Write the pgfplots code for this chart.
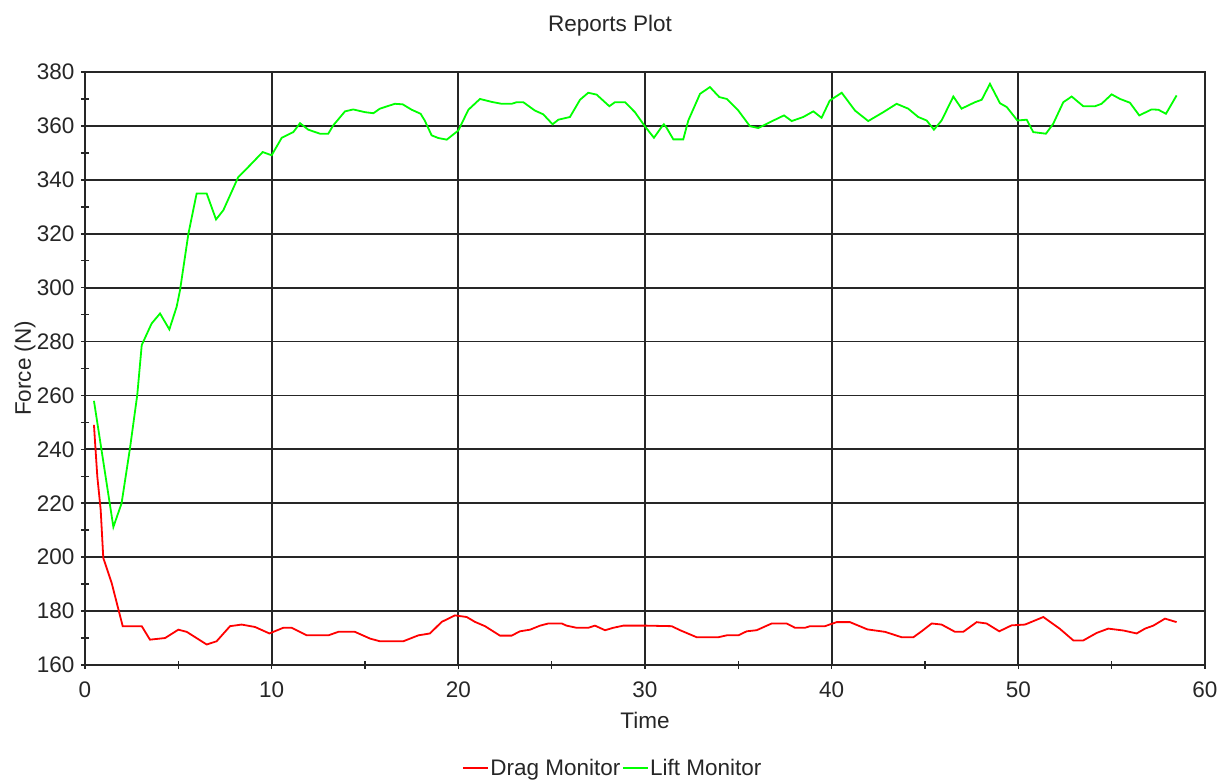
\documentclass[border=0pt]{standalone}
\usepackage{fontspec}
\setmainfont{Liberation Sans}
\usepackage{pgfplots}
\pgfplotsset{compat=1.18}
\definecolor{dragred}{RGB}{255,0,0}
\definecolor{liftgreen}{RGB}{0,255,0}
\begin{document}
\begin{tikzpicture}
\path[use as bounding box] (-85pt,-118pt) rectangle (1134pt,665pt);
\begin{axis}[
  at={(0pt,0pt)}, anchor=south west,
  scale only axis, width=1120pt, height=593pt,
  xmin=0, xmax=60, ymin=160, ymax=380,
  xtick={0,10,...,60}, ytick={160,180,...,380},
  minor x tick num=1, minor y tick num=1,
  tick pos=left,
  grid=major,
  major grid style={black!85, line width=1.8pt},
  axis line style={black!85, line width=1.8pt},
  tick style={black!85, line width=1.6pt},
  tick align=center, major tick length=8pt, minor tick length=8pt,
  font=\fontsize{22.5}{27}\selectfont,
  /pgf/number format/assume math mode=true,
  tick label style={font=\fontsize{22.5}{27}\selectfont, text=black!85},
  xticklabel style={yshift=-9pt},
  yticklabel style={xshift=-3pt},
  title={Reports Plot},
  title style={at={(axis description cs:0.4688,1)}, anchor=center, yshift=40pt, text=black!85},
  xlabel={Time},
  xlabel style={at={(axis description cs:0.5,0)}, anchor=center, yshift=-55pt, text=black!85},
  ylabel={Force (N)},
  ylabel style={at={(axis description cs:-0.0536,0.5)}, anchor=center, text=black!85},
  legend columns=2,
  legend style={at={(0.471,-0.1737)}, anchor=center, draw=none, fill=none,
    font=\fontsize{22.5}{27}\selectfont, text=black!85,
    /tikz/every even column/.append style={column sep=0pt},
    nodes={inner sep=1.5pt}},
  legend image code/.code={\draw[#1] (0pt,0pt) -- (25pt,0pt);},
]
\addplot[dragred, line width=1.8pt] coordinates {
(0.48,249.1) (0.52,244.7) (0.66,229.9) (0.84,217.6) (0.98,199.7) (1.43,190.4) (2.02,174.4) (3.04,174.4) (3.48,169.4) (4.29,170) (5.0,173.1) (5.45,172.3) (6.52,167.6) (7.05,168.8) (7.77,174.4) (8.39,175) (9.11,174.1) (9.88,171.7) (10.62,173.8) (11.07,173.8) (11.88,171) (13.04,171) (13.57,172.3) (14.46,172.3) (15.27,169.8) (15.8,168.8) (17.05,168.8) (17.86,171) (18.48,171.7) (19.11,176) (19.82,178.4) (20.45,177.8) (20.89,176) (21.43,174.4) (22.23,170.9) (22.86,170.9) (23.3,172.5) (23.84,173.1) (24.38,174.6) (24.82,175.4) (25.54,175.4) (25.8,174.6) (26.34,173.8) (26.96,173.8) (27.32,174.6) (27.86,172.9) (28.3,173.8) (28.84,174.6) (30.09,174.6) (31.43,174.4) (31.88,172.9) (32.77,170.3) (33.93,170.3) (34.38,171) (35.0,171) (35.45,172.5) (35.98,172.9) (36.79,175.4) (37.59,175.4) (38.04,173.8) (38.57,173.8) (38.84,174.4) (39.64,174.4) (40.27,175.9) (40.98,175.9) (41.92,173.2) (42.86,172.3) (43.75,170.3) (44.38,170.3) (44.82,172.5) (45.36,175.4) (45.89,175) (46.61,172.3) (47.05,172.3) (47.77,175.9) (48.3,175.4) (48.98,172.5) (49.64,174.7) (50.36,175) (51.34,177.8) (52.23,173.4) (52.95,169.1) (53.48,169.1) (54.2,171.9) (54.82,173.5) (55.63,172.8) (56.34,171.7) (56.79,173.5) (57.23,174.6) (57.86,177.2) (58.48,175.9)
};
\addlegendentry{Drag Monitor}
\addplot[liftgreen, line width=1.8pt] coordinates {
(0.48,258) (1.52,211.2) (1.96,220) (2.41,240.4) (2.8,260.2) (3.04,278.7) (3.57,286.7) (4.02,290.4) (4.52,284.5) (4.91,292.9) (5.09,299) (5.54,320) (5.98,334.9) (6.52,334.9) (7.02,325.3) (7.41,328.7) (8.21,341) (8.84,345.4) (9.52,350.3) (10.0,349.1) (10.54,355.6) (11.16,357.7) (11.52,361) (11.96,358.6) (12.59,357.1) (13.03,357.1) (13.3,360.2) (13.93,365.4) (14.37,366.1) (15.0,365.1) (15.45,364.7) (15.8,366.4) (16.6,368.2) (17.02,368) (17.5,366) (17.98,364.5) (18.2,362) (18.57,356.5) (18.93,355.5) (19.38,354.9) (20.0,358.3) (20.54,366) (21.16,370) (21.79,368.9) (22.32,368.2) (22.86,368.2) (23.13,368.8) (23.48,368.8) (24.1,365.7) (24.55,364.3) (25.05,360.6) (25.36,362.3) (25.98,363.3) (26.52,369.7) (26.96,372.3) (27.41,371.6) (28.09,367.3) (28.39,368.8) (28.93,368.8) (29.46,365.1) (30.0,359.8) (30.48,355.6) (30.89,359.6) (31.01,360.6) (31.13,359.6) (31.52,355) (32.05,355) (32.32,362) (32.95,371.9) (33.48,374.4) (33.98,370.7) (34.38,370) (35.0,365.7) (35.62,359.9) (36.07,359.2) (36.7,361.4) (37.45,363.9) (37.86,361.8) (38.48,363.3) (39.02,365.4) (39.46,363) (39.9,369.4) (40.54,372.3) (41.25,365.7) (41.96,361.8) (42.77,365.1) (43.48,368.2) (44.1,366.4) (44.64,363.3) (45.09,362) (45.48,358.6) (45.89,362) (46.52,370.9) (46.96,366.4) (47.68,368.8) (48.04,369.7) (48.48,375.6) (49.02,368.4) (49.38,367) (49.95,362) (50.45,362.3) (50.8,357.7) (51.48,357.1) (51.87,360.8) (52.41,368.8) (52.86,370.9) (53.48,367.3) (54.11,367.3) (54.46,368.2) (55.0,371.7) (55.45,370) (55.98,368.6) (56.48,363.9) (57.14,366.1) (57.5,366) (57.91,364.5) (58.48,371.3)
};
\addlegendentry{Lift Monitor}
\end{axis}
\end{tikzpicture}
\end{document}
